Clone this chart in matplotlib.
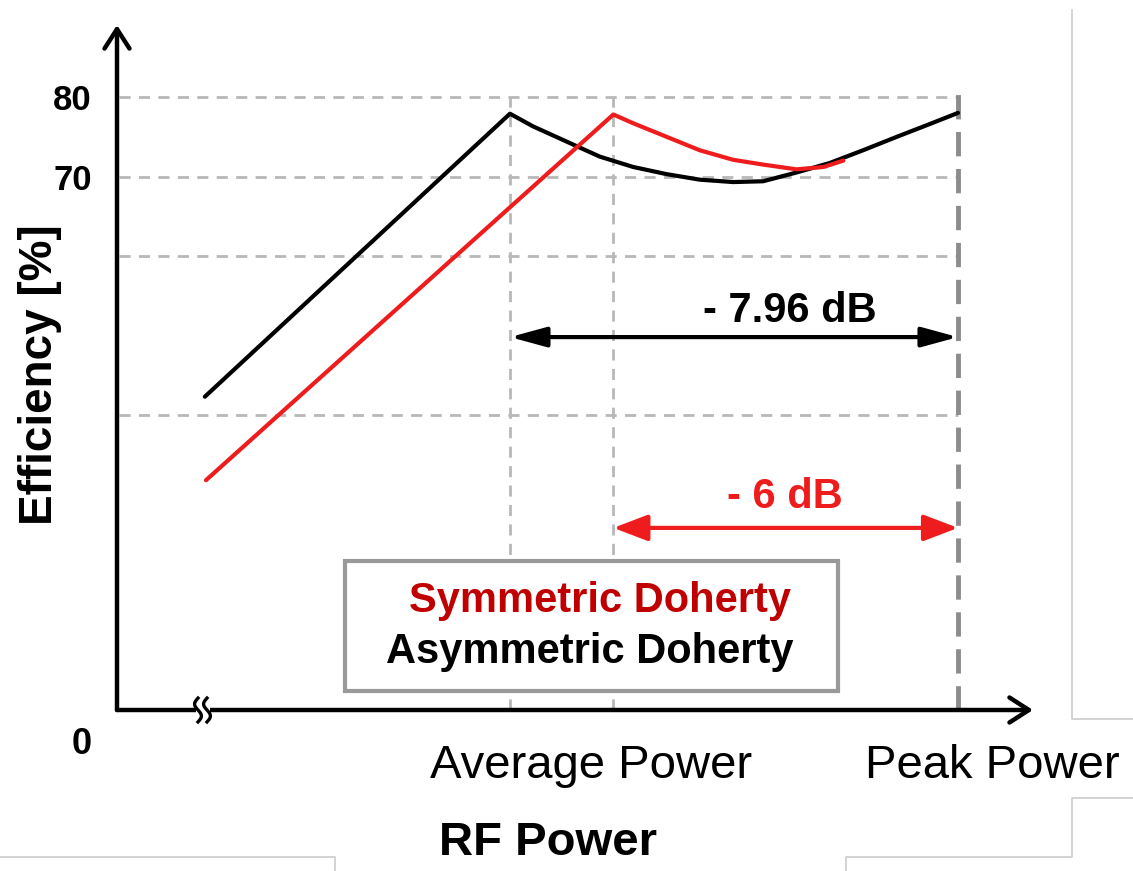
import numpy as np
import matplotlib.pyplot as plt
from matplotlib.patches import Rectangle

plt.rcParams['font.family'] = ['Liberation Sans', 'DejaVu Sans']

# RF power relative to peak [dB] and efficiency [%]
asym_db = [-13.33, -7.93, -7.52, -6.93, -6.34, -5.75, -5.16, -4.57, -3.98,
           -3.45, -2.86, -2.27, -1.68, -1.08, -0.50, 0.0]
asym_eff = [42.3, 77.9, 76.3, 74.4, 72.5, 71.2, 70.3, 69.6, 69.3,
            69.4, 70.5, 71.7, 73.3, 75.0, 76.6, 78.0]
sym_db = [-13.31, -6.1, -5.75, -5.16, -4.57, -3.98, -3.45, -2.86, -2.38, -2.03]
sym_eff = [31.8, 77.8, 76.7, 75.0, 73.3, 72.1, 71.5, 70.9, 71.2, 72.0]

avg_asym_db = -7.93   # average power, asymmetric
avg_sym_db = -6.1     # average power, symmetric
peak_db = 0.0
grid_levels = [80, 70, 60, 40]
ytick_vals = [80, 70]
ytick_labels = ['80', '70']
arrow_asym_eff = 49.8
arrow_sym_eff = 25.8
label_asym = '- 7.96 dB'
label_sym = '- 6 dB'

W, H = 1133, 871
red = '#ee1c1c'
dark_red = '#c00000'
grid_c = '#b8b8b8'


def fx(px):
    return px / W


def fy(py):
    return 1 - py / H


# pixel <-> data mapping of the sketch
def db(px):
    return (px - 958) / 56.5


def eff(py):
    return 80 - (py - 97) / 7.95


fig = plt.figure(figsize=(W / 100, H / 100), dpi=100)
ax = fig.add_axes([fx(117), fy(710), fx(1033) - fx(117), fy(25) - fy(710)])
ax.set_xlim(db(117), db(1033))
ax.set_ylim(eff(710), eff(25))
for s in ax.spines.values():
    s.set_visible(False)
ax.set_xticks([])
ax.set_yticks(ytick_vals)
ax.set_yticklabels(ytick_labels, fontsize=25, fontweight='bold')
ax.tick_params(axis='y', length=0, pad=18)

# dashed guide lines
ax.hlines(grid_levels, db(119), peak_db, colors=grid_c, lw=2,
          linestyles=(0, (4, 3)), zorder=1)
ax.vlines([avg_asym_db, avg_sym_db], eff(710), 80, colors=grid_c, lw=2,
          linestyles=(0, (4, 3)), zorder=1)
ax.vlines(peak_db, eff(710), 80.5, colors='#8c8c8c', lw=3.5,
          linestyles=(0, (5, 2.6)), zorder=1)

# efficiency curves
ax.plot(asym_db, asym_eff, color='black', lw=3, zorder=4,
        solid_capstyle='round', solid_joinstyle='round')
ax.plot(sym_db, sym_eff, color=red, lw=3, zorder=5,
        solid_capstyle='round', solid_joinstyle='round')

# back-off arrows
ax.annotate('', xy=(peak_db, arrow_asym_eff), xytext=(avg_asym_db, arrow_asym_eff),
            arrowprops=dict(arrowstyle='<|-|>,head_length=2.2,head_width=0.6',
                            mutation_scale=10, color='black', lw=3,
                            shrinkA=0, shrinkB=0), zorder=6)
ax.annotate('', xy=(peak_db, arrow_sym_eff), xytext=(avg_sym_db, arrow_sym_eff),
            arrowprops=dict(arrowstyle='<|-|>,head_length=2.1,head_width=0.8',
                            mutation_scale=10, color=red, lw=3,
                            shrinkA=0, shrinkB=0), zorder=6)
ax.text(db(790), eff(322), label_asym, fontsize=30, fontweight='bold',
        ha='center', va='baseline', color='black', zorder=7)
ax.text(db(785), eff(508), label_sym, fontsize=30, fontweight='bold',
        ha='center', va='baseline', color=red, zorder=7)

# legend box
ax.add_patch(Rectangle((db(345), eff(691)), db(838) - db(345), eff(561) - eff(691),
                       facecolor='white', edgecolor='#999999', lw=3, zorder=8))
ax.text(db(600), eff(612), 'Symmetric Doherty', fontsize=30, fontweight='bold',
        color=dark_red, ha='center', va='baseline', zorder=9)
ax.text(db(590), eff(663), 'Asymmetric Doherty', fontsize=30, fontweight='bold',
        color='black', ha='center', va='baseline', zorder=9)

# axes with open arrow heads
arr = dict(arrowstyle='->,head_length=0.7,head_width=0.45', mutation_scale=20,
           color='black', lw=3.2, shrinkA=0, shrinkB=0, capstyle='round')
ax.annotate('', xy=(0, 1), xytext=(0, 0), xycoords='axes fraction',
            arrowprops=arr, annotation_clip=False, zorder=10)
ax.annotate('', xy=(1, 0), xytext=(0, 0), xycoords='axes fraction',
            arrowprops=arr, annotation_clip=False, zorder=10)

# axis break marks
ax.add_patch(Rectangle((db(196), eff(716)), db(210) - db(196), eff(703) - eff(716),
                       facecolor='white', edgecolor='none', zorder=11,
                       clip_on=False))
t = np.linspace(-np.pi, np.pi, 60)
for cx in (198, 207):
    ax.plot(db(cx) - 0.06 * np.sin(t), eff(710) + 1.5 * t / np.pi,
            color='black', lw=2.4, zorder=12, clip_on=False)

# outer labels
fig.text(fx(40), fy(375), 'Efficiency [%]', rotation=90, fontsize=33,
         fontweight='bold', ha='center', va='center')
fig.text(fx(82), fy(744), '0', fontsize=26, fontweight='bold',
         ha='center', va='center')
fig.text(fx(591), fy(778), 'Average Power', fontsize=34, ha='center',
         va='baseline')
fig.text(fx(992), fy(778), 'Peak Power', fontsize=34, ha='center',
         va='baseline')
fig.text(fx(548), fy(855), 'RF Power', fontsize=34, fontweight='bold',
         ha='center', va='baseline')

# faint slide frame lines
frame_c = '#cccccc'
for xs, ys in [([1072, 1072, W], [10, 719, 719]),
               ([W, 1072, 1072, 846, 846], [798, 798, 857, 857, H]),
               ([0, 335, 335], [857, 857, H])]:
    fig.add_artist(plt.Line2D([fx(v) for v in xs], [fy(v) for v in ys],
                              color=frame_c, lw=1.2))

fig.savefig('out.png', dpi=100)
